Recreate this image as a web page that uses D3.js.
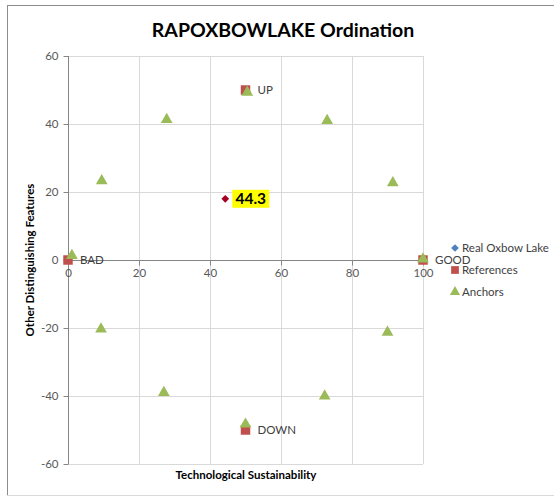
<!DOCTYPE html>
<html><head><meta charset="utf-8">
<script src="https://cdn.jsdelivr.net/npm/d3@7"></script>
<style>body{margin:0;background:#fff;} svg{display:block;}</style>
</head><body>
<svg id="chart" width="554" height="497"></svg>
<script>
const xTicks = [0, 20, 40, 60, 80, 100];
const yTicks = [-60, -40, -20, 0, 20, 40, 60];
const realOxbow = [{x: 44.3, y: 18, label: "44.3"}];
const references = [
  {x: 0, y: 0, label: "BAD"},
  {x: 100, y: 0, label: "GOOD"},
  {x: 50, y: 50, label: "UP"},
  {x: 50, y: -50, label: "DOWN"}
];
const anchorX = [50.5, 27.8, 73, 9.5, 91.5, 1.1, 100, 9.3, 90, 27, 72.3, 50];
const anchorY = [49.3, 41.3, 41, 23.3, 22.7, 1.3, 0.3, -20.3, -21.3, -39, -40, -48.3];
const legendNames = ["Real Oxbow Lake", "References", "Anchors"];
const colors = {real: "#4f81bd", realPoint: "#a50021", ref: "#c0504d", anchor: "#9bbb59"};

const svg = d3.select("#chart");
const font = "Lato, 'Open Sans', sans-serif";

// chart border
svg.append("rect").attr("x", 7.5).attr("y", 5.5).attr("width", 600).attr("height", 490)
  .attr("fill", "#fff").attr("stroke", "#8c8c8c").attr("stroke-width", 1);
svg.append("line").attr("x1", 7).attr("x2", 554).attr("y1", 495.5).attr("y2", 495.5)
  .attr("stroke", "#d9d9d9");

const x = d3.scaleLinear().domain([0, 100]).range([68, 423]);
const y = d3.scaleLinear().domain([-60, 60]).range([464, 56]);

// gridlines
const g = svg.append("g");
g.selectAll(".vg").data(xTicks).join("line")
  .attr("x1", d => Math.round(x(d)) + 0.5).attr("x2", d => Math.round(x(d)) + 0.5)
  .attr("y1", y(60)).attr("y2", y(-60)).attr("stroke", "#d9d9d9");
g.selectAll(".hg").data(yTicks).join("line")
  .attr("x1", x(0)).attr("x2", x(100))
  .attr("y1", d => Math.round(y(d)) + 0.5).attr("y2", d => Math.round(y(d)) + 0.5)
  .attr("stroke", "#d9d9d9");

const fmt = d => String(d);
// y axis at x=0
const yAxis = svg.append("g").attr("transform", `translate(${Math.round(x(0)) + 0.5},0)`)
  .call(d3.axisLeft(y).tickValues(yTicks).tickFormat(fmt).tickSize(5).tickPadding(5));
// x axis at y=0
const xAxis = svg.append("g").attr("transform", `translate(0,${Math.round(y(0)) + 0.5})`)
  .call(d3.axisBottom(x).tickValues(xTicks).tickFormat(fmt).tickSize(5).tickPadding(3));
[yAxis, xAxis].forEach(a => {
  a.select(".domain").attr("stroke", "#868686");
  a.selectAll(".tick line").attr("stroke", "#868686");
  a.selectAll(".tick text").attr("fill", "#595959").attr("font-family", font).attr("font-size", 11.5);
});
yAxis.select(".domain").attr("d", `M0,${y(60)}V${y(-60)}`);
xAxis.select(".domain").attr("d", `M${x(0)},0H${x(100)}`);

// title
svg.append("text").attr("x", 283).attr("y", 37).attr("text-anchor", "middle")
  .attr("font-family", font).attr("font-weight", "bold").attr("font-size", 19.5)
  .attr("fill", "#000").text("RAPOXBOWLAKE Ordination");
// axis titles
svg.append("text").attr("x", 246).attr("y", 479).attr("text-anchor", "middle")
  .attr("font-family", font).attr("font-weight", "bold").attr("font-size", 11.5)
  .text("Technological Sustainability");
svg.append("text").attr("transform", `translate(34,260) rotate(-90)`).attr("text-anchor", "middle")
  .attr("font-family", font).attr("font-weight", "bold").attr("font-size", 11.5)
  .text("Other Distinguishing Features");

const sqSym = d3.symbol().type(d3.symbolSquare).size(90);
const triSym = d3.symbol().type(d3.symbolTriangle).size(60);
const diaSym = d3.symbol().type(d3.symbolSquare).size(30);

// references
svg.append("g").selectAll("path").data(references).join("path")
  .attr("d", sqSym).attr("transform", d => `translate(${x(d.x)},${y(d.y)})`)
  .attr("fill", colors.ref);
// anchors
const anchors = anchorX.map((v, i) => ({x: v, y: anchorY[i]}));
svg.append("g").selectAll("path").data(anchors).join("path")
  .attr("d", triSym).attr("transform", d => `translate(${x(d.x)},${y(d.y)})`)
  .attr("fill", colors.anchor);
// reference labels
svg.append("g").selectAll("text").data(references).join("text")
  .attr("x", d => x(d.x) + 12).attr("y", d => y(d.y) + 4)
  .attr("font-family", font).attr("font-size", 11.5).attr("fill", "#404040")
  .text(d => d.label);

// real point
svg.append("g").selectAll("path").data(realOxbow).join("path")
  .attr("d", diaSym).attr("transform", d => `translate(${x(d.x)},${y(d.y)}) rotate(45)`)
  .attr("fill", colors.realPoint);
const lbl = svg.append("g").selectAll("g").data(realOxbow).join("g")
  .attr("transform", d => `translate(${x(d.x) + 7},${y(d.y)})`);
lbl.append("rect").attr("x", 0).attr("y", -9).attr("width", 37).attr("height", 18).attr("fill", "#ffff00");
lbl.append("text").attr("x", 18.5).attr("y", 5.5).attr("text-anchor", "middle")
  .attr("font-family", font).attr("font-weight", "bold").attr("font-size", 15.5).text(d => d.label);

// legend
const leg = svg.append("g").attr("transform", "translate(455,248)");
const legSyms = [
  d3.symbol().type(d3.symbolSquare).size(30),
  d3.symbol().type(d3.symbolSquare).size(60),
  d3.symbol().type(d3.symbolTriangle).size(45)
];
const legRot = [45, 0, 0];
const legColors = [colors.real, colors.ref, colors.anchor];
legendNames.forEach((n, i) => {
  const row = leg.append("g").attr("transform", `translate(0,${i * 22})`);
  row.append("path").attr("d", legSyms[i]).attr("fill", legColors[i]).attr("transform", `rotate(${legRot[i]})`);
  row.append("text").attr("x", 7).attr("y", 4).attr("font-family", font)
    .attr("font-size", 11.5).attr("fill", "#404040").text(n);
});
</script>
</body></html>
